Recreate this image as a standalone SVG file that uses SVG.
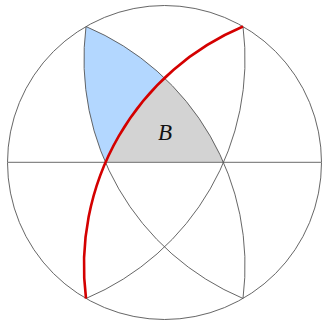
<svg xmlns="http://www.w3.org/2000/svg" width="322" height="322" viewBox="0 0 322 322">
<style>
.geo{fill:none;stroke:#555;stroke-width:0.9}
.axis{fill:none;stroke:#888;stroke-width:1.3}
.red{fill:none;stroke:#d40000;stroke-width:2.6}
.lbl{font-family:"Liberation Serif","DejaVu Serif",serif;font-style:italic;font-size:23px;fill:#111}
</style>
<rect width="322" height="322" fill="#fff"/>
<g id="region-blue">
<path d="M86 26.53 A259.8 259.8 0 0 1 164.5 77.96 A259.8 259.8 0 0 0 105.47 162.3 A259.8 259.8 0 0 1 86 26.53 Z" fill="#b3d7ff"/>
</g>
<g id="region-B">
<path d="M164.5 77.96 A259.8 259.8 0 0 1 223.53 162.3 L105.47 162.3 A259.8 259.8 0 0 1 164.5 77.96 Z" fill="#d3d3d3"/>
<text class="lbl" x="165" y="140" text-anchor="middle">B</text>
</g>
<g id="connectors">
<circle class="geo" cx="164.5" cy="162.5" r="157"/>
<line class="axis" x1="7.5" y1="162.3" x2="321.5" y2="162.3"/>
<path class="geo" d="M243 26.53 A259.8 259.8 0 0 1 86 298.47"/>
<path class="geo" d="M243 298.47 A259.8 259.8 0 0 1 86 26.53"/>
<path class="geo" d="M86 26.53 A259.8 259.8 0 0 1 243 298.47"/>
<path id="red-arc" class="red" d="M86 298.47 A259.8 259.8 0 0 1 243 26.53"/>
</g>
</svg>
